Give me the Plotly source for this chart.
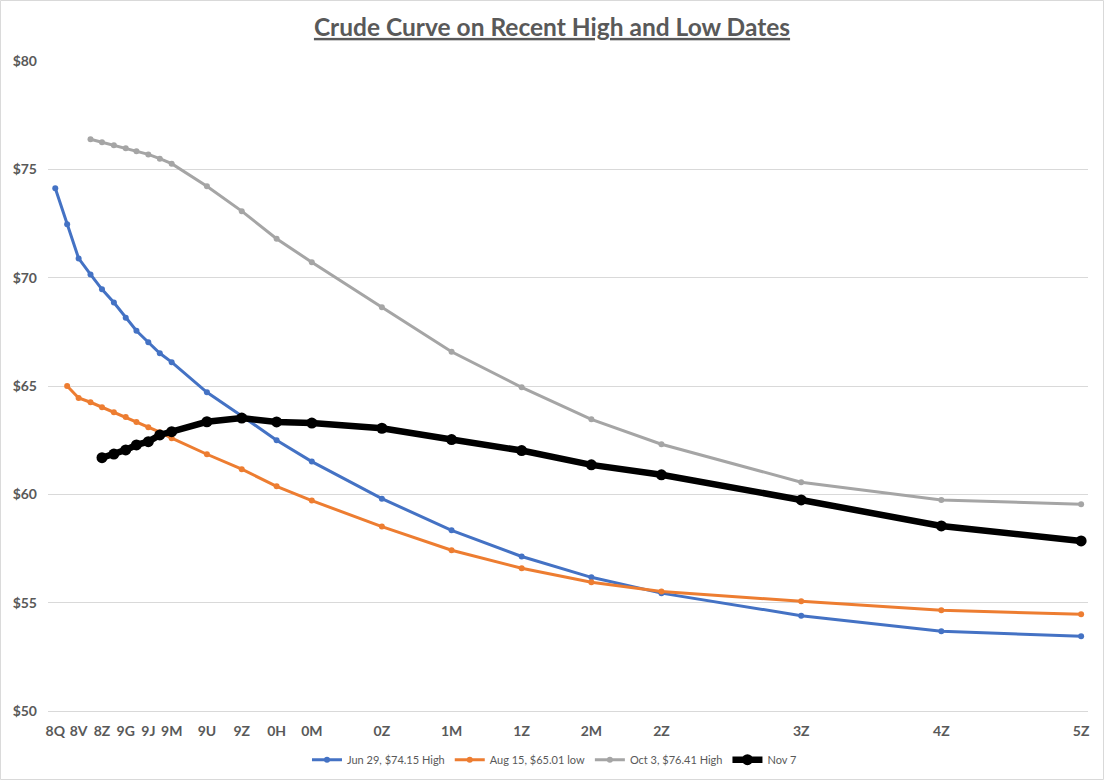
import datetime as dt
import plotly.graph_objects as go

# contract codes: year digit + month letter (CME style)
month_codes = {'F': 1, 'G': 2, 'H': 3, 'J': 4, 'K': 5, 'M': 6,
               'N': 7, 'Q': 8, 'U': 9, 'V': 10, 'X': 11, 'Z': 12}

tail = ['9U', '9Z', '0H', '0M', '0Z', '1M', '1Z', '2M', '2Z', '3Z', '4Z', '5Z']

jun29_contracts = ['8Q', '8U', '8V', '8X', '8Z', '9F', '9G', '9H', '9J', '9K', '9M'] + tail
jun29_prices = [74.13, 72.46, 70.89, 70.15, 69.46, 68.85, 68.15, 67.55, 67.02, 66.51, 66.10,
                64.71, 63.62, 62.50, 61.51, 59.80, 58.34, 57.13, 56.17, 55.44, 54.40, 53.68, 53.45]

aug15_contracts = ['8U', '8V', '8X', '8Z', '9F', '9G', '9H', '9J', '9K', '9M'] + tail
aug15_prices = [65.00, 64.45, 64.25, 64.02, 63.79, 63.57, 63.34, 63.10, 62.87, 62.59,
                61.85, 61.16, 60.37, 59.71, 58.51, 57.42, 56.59, 55.94, 55.52, 55.06, 54.65, 54.46]

oct3_contracts = ['8X', '8Z', '9F', '9G', '9H', '9J', '9K', '9M'] + tail
oct3_prices = [76.39, 76.25, 76.11, 75.97, 75.83, 75.69, 75.49, 75.26,
               74.22, 73.07, 71.80, 70.71, 68.63, 66.58, 64.94, 63.46, 62.31, 60.56, 59.74, 59.54]

nov7_contracts = ['8Z', '9F', '9G', '9H', '9J', '9K', '9M'] + tail
nov7_prices = [61.69, 61.86, 62.05, 62.28, 62.43, 62.74, 62.89,
               63.35, 63.52, 63.34, 63.29, 63.05, 62.53, 62.02, 61.36, 60.90, 59.74, 58.54, 57.85]

tick_labels = ['8Q', '8V', '8Z', '9G', '9J', '9M', '9U', '9Z', '0H', '0M',
               '0Z', '1M', '1Z', '2M', '2Z', '3Z', '4Z', '5Z']


def contract_date(code):
    year = 2010 + int(code[0])
    if year < 2018:
        year += 10
    return dt.date(year, month_codes[code[1]], 1)


series = [
    ('Jun 29, $74.15 High', jun29_contracts, jun29_prices, '#4472C4', 3, 6),
    ('Aug 15, $65.01 low', aug15_contracts, aug15_prices, '#ED7D31', 3, 6),
    ('Oct 3, $76.41 High', oct3_contracts, oct3_prices, '#A5A5A5', 3, 6),
    ('Nov 7', nov7_contracts, nov7_prices, '#000000', 6.5, 11),
]

fig = go.Figure()
for name, codes, prices, color, width, msize in series:
    fig.add_trace(go.Scatter(
        x=[contract_date(c) for c in codes], y=prices, name=name,
        mode='lines+markers',
        line=dict(color=color, width=width),
        marker=dict(color=color, size=msize),
    ))

grey_text = '#595959'
fig.update_layout(
    width=1104, height=780,
    margin=dict(l=48, r=16, t=61, b=69),
    paper_bgcolor='white', plot_bgcolor='white',
    font=dict(family='Lato', color=grey_text),
    title=dict(text='<b><u>Crude Curve on Recent High and Low Dates</u></b>',
               x=0.5, xanchor='center', y=0.965, yanchor='middle',
               font=dict(size=24.5, color=grey_text)),
    legend=dict(orientation='h', x=0.487, xanchor='center',
                yref='container', y=0.026, yanchor='middle',
                font=dict(size=11, color=grey_text)),
    showlegend=True,
)
fig.update_xaxes(
    type='date', automargin=False,
    range=[dt.date(2018, 7, 13), dt.date(2025, 12, 19)],
    tickvals=[contract_date(c) for c in tick_labels], ticktext=tick_labels,
    showgrid=False, showline=True, linecolor='#D9D9D9', linewidth=1,
    tickfont=dict(size=14, color=grey_text, weight='bold'),
    ticklabelstandoff=7,
)
fig.update_yaxes(
    range=[50, 80], dtick=5, tickprefix='$', automargin=False,
    showgrid=True, gridcolor='#D9D9D9', gridwidth=1, zeroline=False,
    tickfont=dict(size=14, color=grey_text, weight='bold'),
    ticklabelstandoff=10,
)
# chart area border
fig.add_shape(type='rect', xref='paper', yref='paper',
              x0=-0.0457, x1=1.0149, y0=-0.1054, y1=1.0931,
              line=dict(color='#D9D9D9', width=1))

# drop the default body margin so the chart sits at the page corner
fig.write_html('out.html', config={'displayModeBar': False},
               post_script="document.body.style.margin='0';")
